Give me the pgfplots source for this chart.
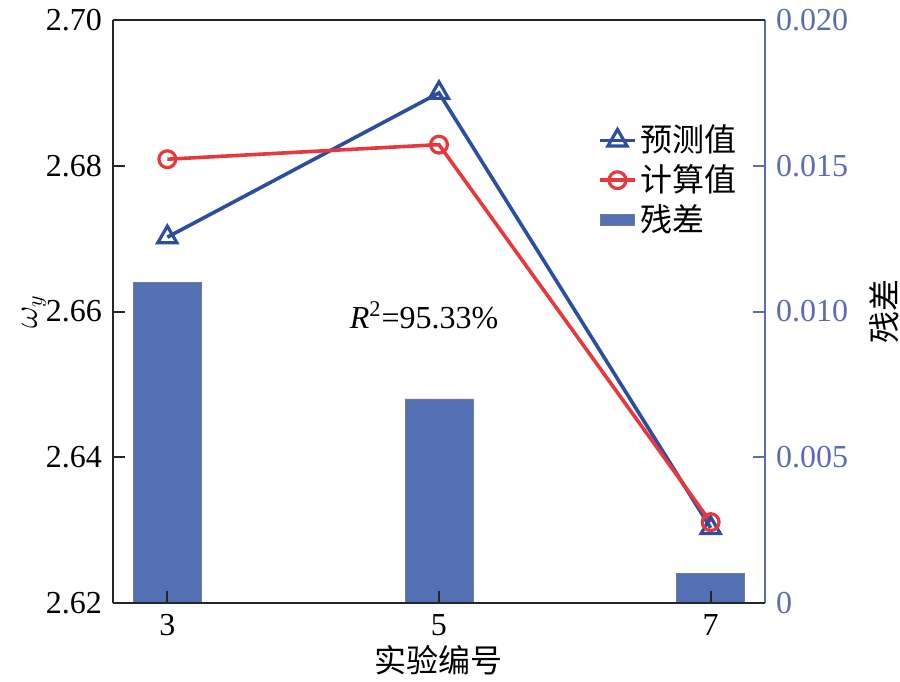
\documentclass[border=0pt]{standalone}
\usepackage{pgfplots}
\pgfplotsset{compat=1.18}
\usepackage{fontspec}
\setmainfont{Liberation Serif}
\newfontfamily\cjk{Noto Sans CJK SC}
\definecolor{rax}{HTML}{5B6DB0}
\definecolor{barc}{HTML}{5470B4}
\definecolor{bl}{HTML}{2B4F9E}
\definecolor{rd}{HTML}{E6383D}
\begin{document}
\fontsize{16}{19}\selectfont
\begin{tikzpicture}
\useasboundingbox (0,0) rectangle (450pt,340.5pt);
% bars, right axis
\begin{axis}[
  at={(56.5pt,39pt)}, anchor=south west,
  scale only axis, width=326pt, height=291.5pt,
  xmin=2.6, xmax=7.4, ymin=0, ymax=0.02,
  axis y line*=right, axis x line=none,
  scaled y ticks=false,
  ytick={0,0.005,0.01,0.015,0.02},
  yticklabels={0,0.005,0.010,0.015,0.020},
  yticklabel style={text=rax, font=\fontsize{16}{19}\selectfont},
  y axis line style={draw=rax, line width=1pt},
  ytick style={draw=rax, line width=1pt},
  tick align=inside, major tick length=6pt,
  ylabel={\cjk 残差}, ylabel style={font=\fontsize{16}{19}\selectfont, rotate=0},
  every outer y axis line/.append style={draw=rax},
]
\addplot[ybar, bar width=0.5, fill=barc, draw=gray!70!barc, line width=0.4pt]
  coordinates {(3,0.011) (5,0.007) (7,0.001)};
\end{axis}
% lines, left axis
\begin{axis}[
  at={(56.5pt,39pt)}, anchor=south west,
  scale only axis, width=326pt, height=291.5pt,
  xmin=2.6, xmax=7.4, ymin=2.62, ymax=2.70,
  axis x line*=bottom, axis y line*=left,
  xtick={3,5,7},
  ytick={2.62,2.64,2.66,2.68,2.70},
  yticklabel style={/pgf/number format/.cd, fixed, fixed zerofill, precision=2},
  /pgf/number format/assume math mode=true,
  ticklabel style={font=\fontsize{16}{19}\selectfont},
  axis line style={line width=1pt, draw=black!85},
  tick style={line width=1pt, draw=black!85},
  tick align=inside, major tick length=6pt,
  xlabel={\cjk 实验编号},
  xlabel style={font=\fontsize{16}{19}\selectfont, yshift=6pt},
  ylabel={$\omega_y$},
  ylabel shift=-11pt,
  ylabel style={font=\fontsize{16}{19}\selectfont},
  legend style={at={(0.735,0.835)}, anchor=north west, draw=none, fill=none,
    font=\fontsize{16}{17.5}\selectfont\cjk, row sep=0pt,
    /tikz/every even column/.append style={column sep=4pt}},
  legend cell align=left,
  clip=false,
]
\draw[black!85, line width=1pt] (rel axis cs:0,1) -- (rel axis cs:1,1);
\addplot[bl, line width=1.8pt, mark=triangle, mark size=5.5pt,
  mark options={fill=white, line width=1.6pt}]
  coordinates {(3,2.6702) (5,2.6900) (7,2.6303)};
\addlegendentry{预测值}
\addplot[rd, line width=1.8pt, mark=o, mark size=4.2pt,
  mark options={fill=white, line width=1.6pt}]
  coordinates {(3,2.6809) (5,2.6829) (7,2.6311)};
\addlegendentry{计算值}
\addlegendimage{area legend, fill=barc, draw=gray!70!barc}
\addlegendentry{残差}
\node[font=\fontsize{16}{19}\selectfont] at (axis cs:4.89,2.6595) {\textit{R}\textsuperscript{2}=95.33\%};
\end{axis}
\end{tikzpicture}
\end{document}
